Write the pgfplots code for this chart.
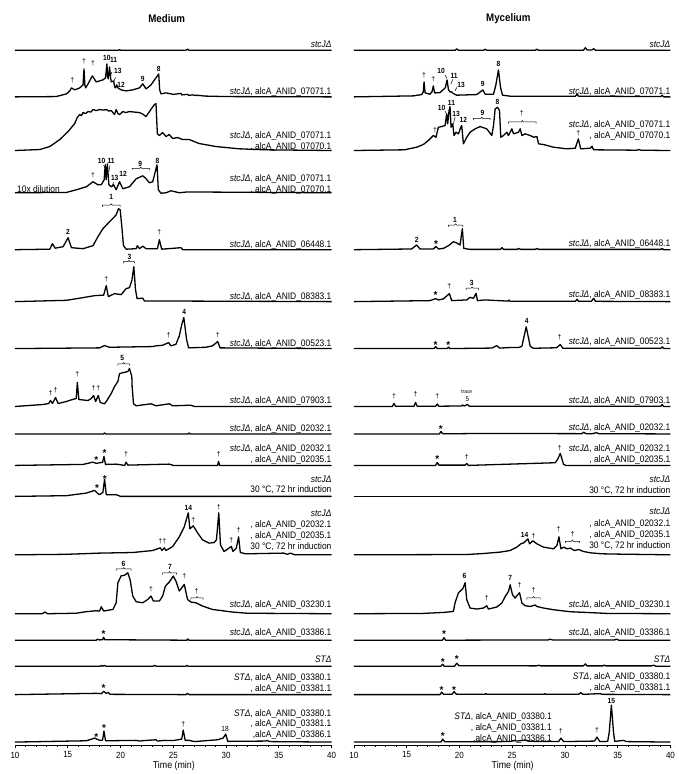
\documentclass[border=0pt]{standalone}
\usepackage{fontspec}
\setmainfont{Liberation Sans}
\newfontfamily\cf{Liberation Sans}[FakeStretch=0.89]
\usepackage{pgfplots}
\pgfplotsset{compat=1.18}
\newcommand{\labf}{\cf\fontsize{9.5}{10}\selectfont}
\newcommand{\lbl}[2]{\node[anchor=base east,inner sep=0pt,font=\labf] at (axis cs:40,#1) {#2};}
\newcommand{\lblx}[3]{\node[anchor=base east,inner sep=0pt,font=\labf] at (axis cs:#1,#2) {#3};}
\newcommand{\pk}[3]{\node[anchor=base,inner sep=0pt,yshift=-2.7pt,font=\cf\fontsize{7.5}{7.5}\selectfont\bfseries] at (axis cs:#1,#2) {#3};}
\newcommand{\dg}[2]{\node[anchor=base,inner sep=0pt,yshift=-2pt,font=\fontsize{7}{7}\selectfont] at (axis cs:#1,#2) {†};}
\newcommand{\as}[2]{\node[anchor=base,inner sep=0pt,yshift=-5.7pt,font=\fontsize{10}{10}\selectfont\bfseries] at (axis cs:#1,#2) {*};}
\newcommand{\brk}[4]{\draw[line width=0.5pt] ([yshift=-1.8pt]axis cs:#1,#4) -- (axis cs:#1,#4) -- ([xshift=-1pt]axis cs:#2,#4) -- ([yshift=1.3pt]axis cs:#2,#4) -- ([xshift=1pt]axis cs:#2,#4) -- (axis cs:#3,#4) -- ([yshift=-1.8pt]axis cs:#3,#4);}
\newcommand{\ld}[4]{\draw[line width=0.5pt] (axis cs:#1,#2) -- (axis cs:#3,#4);}
\pgfplotsset{
 chrom/.style={x=10.567bp, y=1bp, xmin=10, xmax=40, ymin=0, ymax=700,
  anchor=south west, axis x line*=bottom, axis y line=none, clip=false,
  xtick={10,15,...,40}, minor x tick num=4, tick align=outside,
  major tick length=3.2bp, minor tick length=1.8bp,
  every tick/.style={black, line width=0.7pt},
  x axis line style={line width=0.9pt},
  xticklabel style={font=\cf\fontsize{9}{9}\selectfont},
  /pgf/number format/assume math mode=true},
 tr/.style={black, line width=1.3pt, line join=round, y filter/.expression={y+#1}}
}
\begin{document}
\begin{tikzpicture}
\path (-15bp,-28bp) rectangle (662bp,746bp);
% ================= MEDIUM =================
\begin{axis}[chrom, at={(0bp,0bp)}]
\addplot[tr=695.7] coordinates {(10,0)(19.8,0)(19.9,0.6)(20,0)(26.2,0)(26.35,1.2)(26.5,0)(40,0)};
\addplot[tr=649] coordinates {(10,0)(13.9,0.3)(14.87,3)(15.2,6)(15.35,9)(15.66,7)(16.13,9)(16.45,12)(16.54,28)(16.62,12)(16.70,9)(16.92,13)(17.33,21)(17.70,15)(18.02,16)(18.33,17)(18.58,19)(18.71,33)(18.78,20)(18.84,18)(18.96,30)(19.05,20)(19.12,15)(19.34,16)(19.45,10)(19.53,9)(19.65,12)(19.75,9)(20.06,7)(20.53,6)(21.16,7)(21.79,9)(22.11,13)(22.42,8)(22.89,12)(23.21,17)(23.36,19)(23.62,23)(23.71,7)(23.84,3)(24.31,4)(25.0,2.5)(25.72,3.5)(25.8,2)(26.35,2.5)(26.45,1.5)(26.82,2)(27.14,1.5)(27.4,1.5)(28,0.8)(30,0.3)(40,0)};
\addplot[tr=595.3] coordinates {(10,0)(12.36,1)(13.30,4)(14.25,11)(15.03,19)(15.66,27)(15.9,33)(16.13,36)(16.3,35)(16.45,38)(16.7,37)(16.92,39)(17.2,38.5)(17.39,41)(17.7,40)(18.02,41)(18.4,40.5)(18.65,41)(18.9,39.5)(19.12,40)(19.43,36)(19.59,41)(19.75,37)(19.91,36)(20.22,39)(20.5,38)(20.85,39)(21.3,38.5)(21.79,38)(22.1,36.5)(22.42,34)(22.74,39)(23.21,46)(23.36,47)(23.49,17)(23.68,15)(23.99,18)(24.31,14)(24.62,16)(24.94,12)(25.41,13)(25.88,11)(26.51,11)(27.45,7)(29.03,4)(31.23,1.7)(33.74,0.7)(40,0)};
\addplot[tr=553] coordinates {(10,0)(14.87,0.3)(15.82,3)(16.76,6)(17.39,11)(17.86,8)(18.18,8)(18.45,13)(18.55,28)(18.64,13)(18.75,29)(18.9,8)(19.12,6)(19.34,8)(19.59,3)(19.91,11)(20.22,4)(20.85,6)(21.48,14)(22.11,17)(22.42,14)(22.74,10)(23.05,11)(23.46,28)(23.58,3)(23.84,-0.5)(24.31,0)(24.78,2)(25.57,0)(26.3,0.8)(40,0)};
\addplot[tr=496] coordinates {(10,0)(13.3,0.5)(13.55,6)(13.8,1.5)(14.56,3)(15.03,12)(15.35,2)(16.45,1)(17.39,4)(17.86,13)(18.33,21)(18.96,28)(19.43,33)(19.59,35)(19.81,41)(19.97,40)(20.16,19)(20.28,4)(20.53,0.5)(21.48,1)(21.6,4)(21.79,1)(22.11,3.5)(22.42,1)(23.5,1)(23.68,10)(23.9,0.5)(25.72,2)(25.9,0)(40,0)};
\addplot[tr=444] coordinates {(10,0)(14.87,1.3)(16.45,4)(17.55,6)(18.4,6.5)(18.65,16)(18.84,5)(19.43,8)(20.06,7)(20.53,13)(20.85,14)(21.07,21)(21.26,35)(21.42,12)(21.57,3)(22.11,3.5)(22.26,0.7)(40,0)};
\addplot[tr=397] coordinates {(10,0)(18.02,0.7)(18.49,3)(18.96,1.3)(23.05,2)(23.36,2.7)(23.99,3.3)(24.56,6)(24.78,2.7)(25.25,4.3)(25.57,12.7)(25.8,24)(26.0,31)(26.26,9)(26.45,0.7)(28.08,1.3)(28.71,2.7)(29.21,7)(29.43,0.7)(40,0)};
\addplot[tr=339] coordinates {(10,0)(12.67,2)(13.2,3)(13.36,6)(13.55,3)(13.84,9)(14.09,3)(14.87,5)(15.35,6.7)(15.8,8)(15.91,24)(16.05,7)(16.92,6)(17.23,8)(17.45,11)(17.64,5)(17.89,11)(18.08,4)(18.49,2.7)(18.71,6)(19.12,13)(19.43,20)(19.75,25)(19.91,33)(20.69,35)(20.85,38)(21.07,30)(21.10,20)(21.23,2.7)(21.48,0.7)(22.89,2.7)(23.36,0.7)(24.62,2.7)(24.94,0.7)(26.67,1.3)(27,0)(40,0)};
\addplot[tr=311.5] coordinates {(10,0)(18.4,0)(18.49,1)(18.6,0)(26.4,0)(26.51,1)(26.6,0)(40,0)};
\addplot[tr=280] coordinates {(10,0)(16.45,1)(17.39,3.3)(17.70,2)(18.02,2.7)(18.30,3)(18.43,9)(18.58,1)(19.59,1.3)(20.4,0)(20.53,3.3)(20.69,0.3)(24.62,1.3)(25,0)(29.2,0)(29.28,4)(29.4,0)(40,0)};
\addplot[tr=249] coordinates {(10,0)(14.87,0.7)(16.76,3.3)(17.55,6)(17.80,3.3)(18.02,1.7)(18.33,4)(18.49,17)(18.65,1.7)(19.59,1.7)(20,0)(40,0)};
\addplot[tr=190.5] coordinates {(10,0)(14.87,0.5)(18.02,1.7)(21.16,2.3)(23.05,4.3)(23.77,7)(23.93,4.3)(24.15,7)(24.31,4.3)(24.94,8.3)(25.57,18)(26.04,28)(26.42,42)(26.57,26)(26.89,29)(27.30,22)(27.77,15)(28.40,11.7)(28.87,12.3)(29.09,15)(29.31,42)(29.47,10)(29.81,3.3)(30.50,8.3)(30.66,3.3)(30.97,6.7)(31.19,18)(31.35,2.3)(31.86,1)(35.47,1.7)(35.8,0.5)(36.10,1.7)(36.5,0)(40,0)};
\addplot[tr=131.5] coordinates {(10,0)(12.6,0)(12.83,1.7)(13.1,0)(15.8,0.5)(16.7,2)(17.7,3)(18.02,2.7)(18.18,7)(18.4,2.7)(19.28,4.3)(19.59,11)(19.75,31)(20.06,38)(20.38,38.5)(20.69,41)(20.91,34)(21.16,17.7)(21.48,12)(22.11,11)(22.58,14.3)(22.89,17.7)(23.11,12.7)(23.68,12.7)(23.99,17.7)(24.25,27.7)(24.62,31.7)(25.0,37.7)(25.25,32.7)(25.57,22.7)(26.04,29.3)(26.35,14.3)(26.67,11.7)(27.14,11)(27.77,7.7)(28.71,4.3)(30.60,1.7)(32,0.5)(40,0)};
\addplot[tr=105] coordinates {(10,0)(17.7,0)(17.8,1)(18.0,0.3)(18.3,0.5)(18.4,3)(18.5,0.5)(26.3,0)(26.35,1.3)(26.5,0)(40,0)};
\addplot[tr=79] coordinates {(10,0)(18.1,0)(18.18,0.8)(18.3,0)(18.49,0.8)(18.6,0)(23.1,0)(23.21,0.8)(23.4,0)(26.2,0)(26.3,0.8)(26.4,0)(40,0)};
\addplot[tr=50.5] coordinates {(10,0)(17.70,1.3)(18.2,1)(18.4,3.3)(18.65,1.3)(18.84,2.3)(19.0,0.3)(26.2,0)(26.35,1.3)(26.5,0)(40,0)};
\addplot[tr=3] coordinates {(10,0)(16.76,1.3)(17.55,4)(18.02,1.7)(18.3,2)(18.43,11)(18.58,1.3)(21.5,1.7)(21.8,1)(22.2,1.5)(23.36,2.3)(23.5,1)(24.15,1.7)(25.0,1.5)(25.8,3)(25.94,12)(26.13,1.7)(26.51,1.7)(27,0.5)(29.18,2.3)(29.72,4)(29.97,8)(30.16,0.7)(33.74,1)(33.9,1.7)(34.1,0.5)(40,0)};
% labels
\node[font=\cf\fontsize{11}{11}\selectfont\bfseries] at (axis cs:24.38,727.7) {Medium};
\node[font=\cf\fontsize{10}{10}\selectfont] at (axis cs:25.05,-21) {Time (min)};
\lbl{698}{\textit{stcJΔ}}
\lbl{651.6}{\textit{stcJΔ}, alcA\_ANID\_07071.1}
\lbl{607.3}{\textit{stcJΔ}, alcA\_ANID\_07071.1}
\lbl{596.6}{, alcA\_ANID\_07070.1}
\lbl{564}{\textit{stcJΔ}, alcA\_ANID\_07071.1}
\lbl{553.3}{, alcA\_ANID\_07070.1}
\node[anchor=base west,inner sep=0pt,font=\labf] at (axis cs:10.19,553.3) {10x dilution};
\lbl{498.3}{\textit{stcJΔ}, alcA\_ANID\_06448.1}
\lbl{446.3}{\textit{stcJΔ}, alcA\_ANID\_08383.1}
\lbl{399}{\textit{stcJΔ}, alcA\_ANID\_00523.1}
\lbl{342.3}{\textit{stcJΔ}, alcA\_ANID\_07903.1}
\lbl{314}{\textit{stcJΔ}, alcA\_ANID\_02032.1}
\lbl{294}{\textit{stcJΔ}, alcA\_ANID\_02032.1}
\lbl{283}{, alcA\_ANID\_02035.1}
\lbl{263}{\textit{stcJΔ}}
\lbl{253}{30 °C, 72 hr induction}
\lbl{229}{\textit{stcJΔ}}
\lbl{218.3}{, alcA\_ANID\_02032.1}
\lbl{206.6}{, alcA\_ANID\_02035.1}
\lbl{195.6}{30 °C, 72 hr induction}
\lbl{137.3}{\textit{stcJΔ}, alcA\_ANID\_03230.1}
\lbl{109.6}{\textit{stcJΔ}, alcA\_ANID\_03386.1}
\lbl{83}{\textit{STΔ}}
\lbl{65}{\textit{STΔ}, alcA\_ANID\_03380.1}
\lbl{54}{, alcA\_ANID\_03381.1}
\lbl{29}{\textit{STΔ}, alcA\_ANID\_03380.1}
\lbl{18.3}{, alcA\_ANID\_03381.1}
\lbl{7.3}{,alcA\_ANID\_03386.1}
% peak annotations
\dg{15.44}{665.7}\dg{16.54}{684}\dg{17.39}{682.4}
\pk{18.71}{688.4}{10}\pk{19.34}{685.7}{11}\pk{19.75}{675}{13}\pk{20.06}{660.7}{12}\pk{22.11}{667.4}{9}\pk{23.62}{677.4}{8}
\ld{19.18}{674}{19.03}{669.7}\ld{19.53}{668.4}{19.34}{664}
\dg{17.39}{570.7}\pk{18.2}{585}{10}\pk{19.1}{585}{11}\pk{19.45}{568}{13}\pk{20.25}{571.7}{12}
\ld{18.40}{580.7}{18.55}{577}\ld{19.0}{580.7}{18.9}{574}\ld{19.33}{563.5}{19.22}{559}
\pk{21.86}{582.4}{9}\brk{21.10}{21.92}{22.74}{577.4}\pk{23.49}{585}{8}
\pk{19.12}{549}{1}\brk{18.27}{19.12}{19.97}{540.7}\pk{15.03}{513.4}{2}\dg{23.68}{513.4}
\pk{20.85}{489}{3}\brk{20.28}{20.8}{21.32}{484}\dg{18.65}{466.4}
\pk{26.04}{433.4}{4}\dg{24.56}{410}\dg{29.21}{410}
\pk{20.16}{387.4}{5}\brk{19.75}{20.3}{20.85}{381.7}\dg{15.91}{370.7}\dg{13.36}{351.7}\dg{13.84}{355}\dg{17.45}{356.7}\dg{17.89}{356.7}
\as{17.70}{287.4}\as{18.49}{295}\dg{20.53}{290.7}\dg{29.28}{290.7}
\as{17.77}{259.7}\as{18.52}{269}
\pk{26.42}{238}{14}\dg{26.89}{225}\dg{29.31}{237.4}\dg{30.50}{204.7}\dg{31.19}{215}\dg{23.77}{203.4}\dg{24.15}{203.4}
\pk{20.28}{181.7}{6}\brk{19.59}{20.3}{21.0}{176.4}\pk{24.69}{178}{7}\brk{23.99}{24.65}{25.31}{172.4}
\dg{22.89}{155.7}\dg{26.04}{168.4}\dg{27.2}{154}\brk{26.67}{27.25}{27.83}{147.4}
\as{18.4}{113.4}\as{18.4}{59}
\as{17.70}{10.7}\as{18.43}{19.7}\dg{25.94}{20.7}
\node[anchor=base,inner sep=0pt,yshift=-2.7pt,font=\cf\fontsize{7.5}{7.5}\selectfont] at (axis cs:29.9,16.4) {18};
\end{axis}
% ================= MYCELIUM =================
\begin{axis}[chrom, at={(339.3bp,0bp)}]
\addplot[tr=695.7] coordinates {(10,0)(19.6,0)(19.75,1.5)(19.9,0)(22.3,0)(22.44,1)(22.6,0)(27.2,0)(27.34,1)(27.5,0)(31.75,0)(31.93,2.5)(32.1,0.3)(32.56,0.3)(32.72,1.5)(32.9,0)(40,0)};
\addplot[tr=649] coordinates {(10,0)(15.63,1)(16.42,2.3)(16.58,5)(16.65,15)(16.75,4)(17.22,2.7)(17.4,5)(17.53,11)(17.65,4)(17.72,4)(18.16,4.3)(18.48,7.3)(18.67,9.3)(18.83,17)(18.96,7.3)(19.11,5)(19.27,5)(19.43,3.3)(19.75,1.7)(21.65,2.3)(22.1,6)(22.22,7)(22.44,2.7)(23.23,2.7)(23.45,11.7)(23.70,27)(23.89,10)(24.08,1.7)(24.81,0.7)(31.0,0.7)(31.14,2.7)(31.3,0.7)(39.1,0.3)(39.21,1.7)(39.35,0)(40,0)};
\addplot[tr=595.3] coordinates {(10,0)(14.8,0.7)(15.95,3.3)(16.58,6)(17.06,10)(17.53,15)(17.78,13.3)(18.01,23.3)(18.32,24)(18.64,25)(18.80,36.7)(18.89,26.7)(19.02,40)(19.11,44)(19.21,23.3)(19.37,26.7)(19.49,15)(19.68,18.3)(19.91,16.7)(20.13,23.3)(20.22,25)(20.38,6.7)(20.70,13.3)(21.01,18.3)(21.49,21.7)(21.96,24)(22.59,21.7)(23.07,15)(23.23,25)(23.39,41.7)(23.61,43.3)(23.80,40)(23.92,13.3)(24.18,15)(24.49,18.3)(24.65,15)(24.97,21.7)(25.13,16.7)(25.60,18.3)(25.76,21.7)(25.92,15)(26.23,16.7)(26.71,15)(27.03,13.3)(27.34,14)(27.50,6.7)(27.97,6)(28.92,3.3)(30.19,1.7)(30.98,2.3)(31.27,11.7)(31.49,1.7)(32.41,2.3)(32.56,4.3)(32.72,0.7)(35,0.5)(36.8,0.3)(37,1)(37.2,0.3)(40,0)};
\addplot[tr=496] coordinates {(10,0)(15.47,0.7)(15.95,4.7)(16.27,0.7)(17.53,0.7)(17.78,3.3)(18.01,0.7)(18.48,1.3)(18.96,4)(19.43,8)(19.75,6.7)(20.06,4.7)(20.28,21)(20.41,1.3)(21.01,0.3)(23.9,0.3)(24.02,2)(24.2,0.3)(25.5,0.3)(25.6,1.3)(25.8,0.3)(27.2,0.3)(27.34,1.3)(27.5,0.3)(39.1,0.3)(39.21,1.3)(39.35,0)(40,0)};
\addplot[tr=444] coordinates {(10,0)(17.22,1)(17.75,3)(18.01,1.7)(18.48,2.7)(18.80,5.7)(19.05,8)(19.27,1)(20.70,1.7)(21.01,4.3)(21.33,3.3)(21.58,8.3)(21.71,1)(22.44,1.7)(24.6,0.5)(24.7,1.5)(24.8,0.3)(31.0,0.3)(31.14,2.3)(31.3,0.3)(32.5,0.3)(32.72,3.3)(32.9,0.3)(40,0)};
\addplot[tr=397] coordinates {(10,0)(17.6,0)(17.75,2)(17.9,0)(18.85,0)(18.96,1.5)(19.1,0)(23.1,0.5)(23.54,3)(23.8,0.5)(24.81,1)(25.6,1)(25.92,2.3)(26.33,21.7)(26.71,2.3)(27.0,0.3)(29.2,0.8)(29.56,4)(29.8,0.3)(39.1,0.3)(39.21,1.7)(39.4,0)(40,0)};
\addplot[tr=339] coordinates {(10,0)(13.65,0)(13.80,3)(13.95,0.3)(15.7,0.3)(15.85,4)(16.0,0.3)(17.75,0.3)(17.91,2.5)(18.05,0.3)(20.2,0.5)(20.28,1.5)(20.45,0.5)(20.76,2)(20.95,0.3)(39.1,0.3)(39.21,2)(39.35,0)(40,0)};
\addplot[tr=311.5] coordinates {(10,0)(18.1,0)(18.26,2.5)(18.4,0.3)(20.2,0.3)(22.0,0.5)(23.5,0.5)(31.6,0.3)(31.77,1.7)(32.0,0.3)(32.6,0.3)(33.0,1.3)(33.2,0.3)(40,0)};
\addplot[tr=280] coordinates {(10,0)(17.75,0)(17.91,3)(18.05,0.3)(20.55,0.3)(20.70,2)(20.85,0)(29.08,2.7)(29.3,6)(29.56,12)(29.87,1)(30.1,0)(40,0)};
\addplot[tr=249] coordinates {(10,0)(40,0)};
\addplot[tr=190.5] coordinates {(10,0)(20.7,0.3)(22.28,1.3)(23.86,2.7)(24.81,4.3)(25.44,7.7)(25.82,11)(26.1,12)(26.49,16)(26.65,11)(26.96,14)(27.34,11)(27.97,7.7)(28.92,6)(29.24,9.3)(29.43,18)(29.62,6)(29.87,7.7)(30.19,6)(30.51,6.7)(30.89,4.3)(31.30,5.3)(31.77,3.3)(32.41,2)(33.5,1)(35,0.7)(40,0)};
\addplot[tr=131.5] coordinates {(10,0)(16.5,0.3)(18.48,1.3)(19.43,2.3)(19.59,11)(19.91,21)(20.32,25)(20.54,31)(20.70,14)(21.01,5.7)(21.65,4.7)(22.28,5.7)(22.59,8)(22.75,4.7)(23.54,6.7)(24.02,10.7)(24.34,17.3)(24.65,22.3)(24.81,29)(25.03,19)(25.28,15.7)(25.44,18)(25.70,21)(25.92,10.7)(26.23,8)(26.71,7.3)(27.18,8.7)(27.34,7.3)(27.97,5.7)(28.92,4)(30.51,2)(32.0,1.3)(34,0.3)(40,0)};
\addplot[tr=105] coordinates {(10,0)(18.4,0)(18.54,2.5)(18.7,0)(28.4,0.3)(28.6,1)(28.8,0.3)(34.7,0.3)(34.9,1)(35.1,0)(40,0)};
\addplot[tr=79] coordinates {(10,0)(18.25,0)(18.42,2)(18.55,0)(19.55,0)(19.75,3)(19.95,0.5)(27.3,0.3)(27.5,1)(27.7,0.3)(31.75,0.3)(31.93,2.3)(32.1,0.3)(33.6,0.3)(33.7,1)(33.9,0.3)(38.2,0.3)(38.4,1)(38.6,0)(40,0)};
\addplot[tr=50.5] coordinates {(10,0)(18.15,0)(18.32,2.5)(18.5,0.3)(19.3,0.3)(19.49,3)(19.7,0.5)(22.4,0.3)(22.5,1)(22.6,0.3)(28.0,0.3)(28.1,1)(28.2,0.3)(31.3,0.3)(31.5,2)(31.7,0.3)(33.35,1)(33.5,0.3)(40,0)};
\addplot[tr=3] coordinates {(10,0)(18.25,0)(18.42,3)(18.6,0.3)(24.8,0.5)(25.2,1.5)(25.44,1)(26.23,2)(26.5,1)(27.5,0.5)(29.4,0.5)(29.62,4)(29.87,0.5)(32.8,1)(33.04,5)(33.3,0.5)(34.05,0.7)(34.2,10)(34.40,37)(34.6,10)(34.72,0.7)(35.57,1.7)(35.8,0.5)(40,0)};
\node[font=\cf\fontsize{11}{11}\selectfont\bfseries] at (axis cs:24.64,727.7) {Mycelium};
\node[font=\cf\fontsize{10}{10}\selectfont] at (axis cs:25.05,-21) {Time (min)};
\lbl{698}{\textit{stcJΔ}}
\lbl{651.6}{\textit{stcJΔ}, alcA\_ANID\_07071.1}
\lbl{618.3}{\textit{stcJΔ}, alcA\_ANID\_07071.1}
\lbl{607.3}{, alcA\_ANID\_07070.1}
\lbl{499}{\textit{stcJΔ}, alcA\_ANID\_06448.1}
\lbl{448}{\textit{stcJΔ}, alcA\_ANID\_08383.1}
\lbl{400.6}{\textit{stcJΔ}, alcA\_ANID\_00523.1}
\lbl{342.3}{\textit{stcJΔ}, alcA\_ANID\_07903.1}
\lbl{314.6}{\textit{stcJΔ}, alcA\_ANID\_02032.1}
\lbl{294}{\textit{stcJΔ}, alcA\_ANID\_02032.1}
\lbl{283}{, alcA\_ANID\_02035.1}
\lbl{263}{\textit{stcJΔ}}
\lbl{252.3}{30 °C, 72 hr induction}
\lbl{231.3}{\textit{stcJΔ}}
\lbl{219}{, alcA\_ANID\_02032.1}
\lbl{208}{, alcA\_ANID\_02035.1}
\lbl{196.6}{30 °C, 72 hr induction}
\lbl{137.3}{\textit{stcJΔ}, alcA\_ANID\_03230.1}
\lbl{109.6}{\textit{stcJΔ}, alcA\_ANID\_03386.1}
\lbl{83}{\textit{STΔ}}
\lbl{65.6}{\textit{STΔ}, alcA\_ANID\_03380.1}
\lbl{55}{, alcA\_ANID\_03381.1}
\lblx{28.77}{25.6}{\textit{STΔ}, alcA\_ANID\_03380.1}
\lblx{28.77}{15}{, alcA\_ANID\_03381.1}
\lblx{28.77}{4}{,alcA\_ANID\_03386.1}
% annotations
\dg{16.65}{670.7}\dg{17.53}{666.4}\pk{18.26}{675}{10}\pk{19.49}{669.7}{11}\pk{20.16}{660.7}{13}\pk{22.22}{662.4}{9}\pk{23.70}{681.7}{8}
\ld{18.64}{671}{18.80}{667.7}\ld{19.37}{666.4}{19.18}{661.7}\ld{19.75}{658.4}{19.59}{655}
\pk{18.32}{638.4}{10}\pk{19.25}{643.5}{11}\pk{19.68}{632.4}{13}\pk{20.38}{626.4}{12}\pk{22.18}{633}{9}\brk{21.33}{22.12}{22.91}{627.4}\pk{23.61}{644}{8}
\ld{18.64}{634.7}{18.80}{631.7}\ld{19.59}{629}{19.43}{621.7}
\dg{25.92}{632.4}\brk{24.65}{25.96}{27.28}{624}\dg{17.69}{615.7}\dg{31.27}{612.4}
\pk{19.59}{525.7}{1}\brk{18.96}{19.64}{20.32}{520.7}\pk{15.95}{505.7}{2}\as{17.78}{504}
\as{17.75}{452.4}\dg{19.05}{459}\pk{21.17}{463}{3}\brk{20.63}{21.2}{21.80}{457.4}
\as{17.75}{402.4}\as{18.96}{403}\pk{26.39}{425}{4}\dg{29.49}{408.4}
\dg{13.80}{349}\dg{15.85}{350.7}\dg{17.91}{349}
\node[inner sep=0pt,font=\cf\fontsize{5.5}{5.5}\selectfont] at (axis cs:20.70,354) {trace};
\node[anchor=base,inner sep=0pt,yshift=-2.5pt,font=\cf\fontsize{7}{7}\selectfont] at (axis cs:20.76,346.4) {5};
\as{18.23}{318.4}
\as{17.91}{288.4}\dg{20.70}{288}\dg{29.49}{297.4}
\pk{26.17}{210.7}{14}\dg{27.03}{209}\dg{29.40}{215.7}\dg{30.73}{210.7}\brk{30.03}{30.7}{31.39}{204}
\pk{20.47}{169}{6}\dg{22.59}{146.4}\pk{24.81}{167.4}{7}\dg{25.70}{159.7}\dg{27.03}{155}\brk{26.39}{27.03}{27.66}{147.4}
\as{18.54}{113}
\as{18.42}{85.7}\as{19.75}{88.4}
\as{18.32}{57.4}\as{19.49}{57.7}
\as{18.42}{11.4}\dg{29.62}{14}\dg{33.04}{14.7}\pk{34.40}{44.7}{15}
\end{axis}
\end{tikzpicture}
\end{document}
